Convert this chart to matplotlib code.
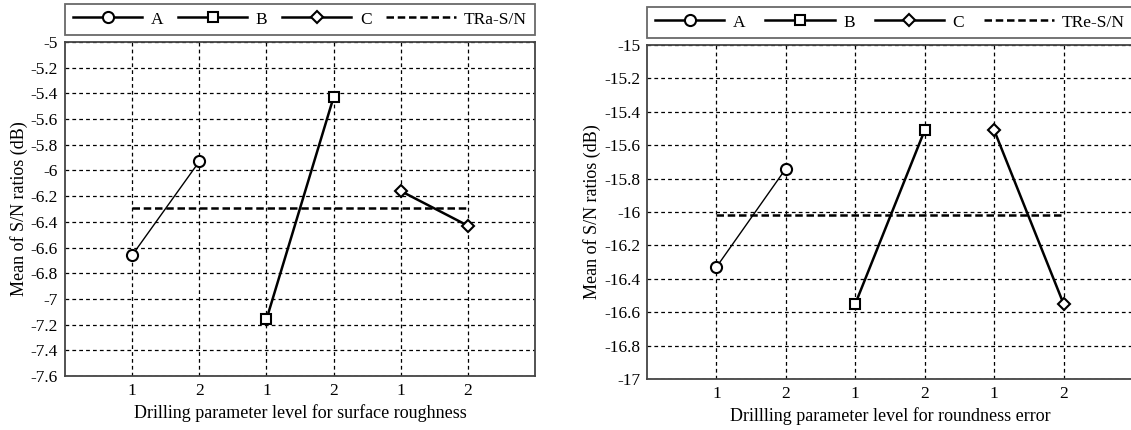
import matplotlib
matplotlib.use("Agg")
import matplotlib.pyplot as plt

plt.rcParams['font.family'] = ['Liberation Serif', 'DejaVu Serif']

# x positions of the levels (A1 A2 B1 B2 C1 C2)
levels_x = [1, 2, 3, 4, 5, 6]
level_labels = ['1', '2', '1', '2', '1', '2']

# surface roughness S/N means
ra_A = [-6.66, -5.93]
ra_B = [-7.16, -5.43]
ra_C = [-6.16, -6.43]
ra_total = -6.29
ra_ticks = [-7.6, -7.4, -7.2, -7.0, -6.8, -6.6, -6.4, -6.2, -6.0,
            -5.8, -5.6, -5.4, -5.2, -5.0]
ra_ticklabels = ['-7.6', '-7.4', '-7.2', '-7', '-6.8', '-6.6', '-6.4', '-6.2',
                 '-6', '-5.8', '-5.6', '-5.4', '-5.2', '-5']

# roundness error S/N means
re_A = [-16.33, -15.74]
re_B = [-16.55, -15.51]
re_C = [-15.51, -16.55]
re_total = -16.02
re_ticks = [-17.0, -16.8, -16.6, -16.4, -16.2, -16.0, -15.8, -15.6, -15.4,
            -15.2, -15.0]
re_ticklabels = ['-17', '-16.8', '-16.6', '-16.4', '-16.2', '-16', '-15.8',
                 '-15.6', '-15.4', '-15.2', '-15']

W, H = 1131, 430
fig = plt.figure(figsize=(W / 100, H / 100), dpi=100)


def panel(rect, A, B, C, total, ticks, ticklabels, total_name, xlabel):
    ax = fig.add_axes(rect)
    ax.plot(levels_x[0:2], A, '-o', color='black', lw=1.0, ms=8,
            mfc='white', mec='black', mew=1.5, label='A')
    ax.plot(levels_x[2:4], B, '-s', color='black', lw=1.8, ms=7.5,
            mfc='white', mec='black', mew=1.5, label='B')
    ax.plot(levels_x[4:6], C, '-D', color='black', lw=1.8, ms=6.5,
            mfc='white', mec='black', mew=1.5, label='C')
    ax.plot([levels_x[0], levels_x[-1]], [total, total], '--', color='black',
            lw=1.8, dashes=(3, 1.5), label=total_name)
    ax.set_xlim(0, 7)
    ax.set_ylim(ticks[0], ticks[-1])
    ax.set_xticks(levels_x)
    ax.set_xticklabels(level_labels)
    ax.set_yticks(ticks)
    ax.set_yticklabels(ticklabels)
    ax.tick_params(length=0, labelsize=12.5, pad=5)
    ax.grid(True, color='black', linestyle=(0, (3, 2.5)), lw=0.9)
    ax.set_axisbelow(True)
    for s in ax.spines.values():
        s.set_color('#444444')
        s.set_linewidth(1.3)
    ax.set_xlabel(xlabel, fontsize=13, labelpad=4)
    ax.set_ylabel('Mean of S/N ratios (dB)', fontsize=13, labelpad=2)
    leg = ax.legend(loc='lower left', bbox_to_anchor=(0, 1.02, 1, 0.09),
                    mode='expand', ncol=4, frameon=True, fancybox=False,
                    edgecolor='#444444', fontsize=12.5, handlelength=4.0,
                    borderaxespad=0, borderpad=0.45, handletextpad=0.5)
    leg.get_frame().set_linewidth(1.3)
    for ln in leg.get_lines():
        ln.set_linewidth(1.8)
    return ax


panel([65 / W, (H - 376) / H, (535 - 65) / W, (376 - 42) / H],
      ra_A, ra_B, ra_C, ra_total, ra_ticks, ra_ticklabels, 'TRa-S/N',
      'Drilling parameter level for surface roughness')
panel([647 / W, (H - 379) / H, (1133 - 647) / W, (379 - 45) / H],
      re_A, re_B, re_C, re_total, re_ticks, re_ticklabels, 'TRe-S/N',
      'Drillling parameter level for roundness error')

fig.savefig('out.png', dpi=100)
